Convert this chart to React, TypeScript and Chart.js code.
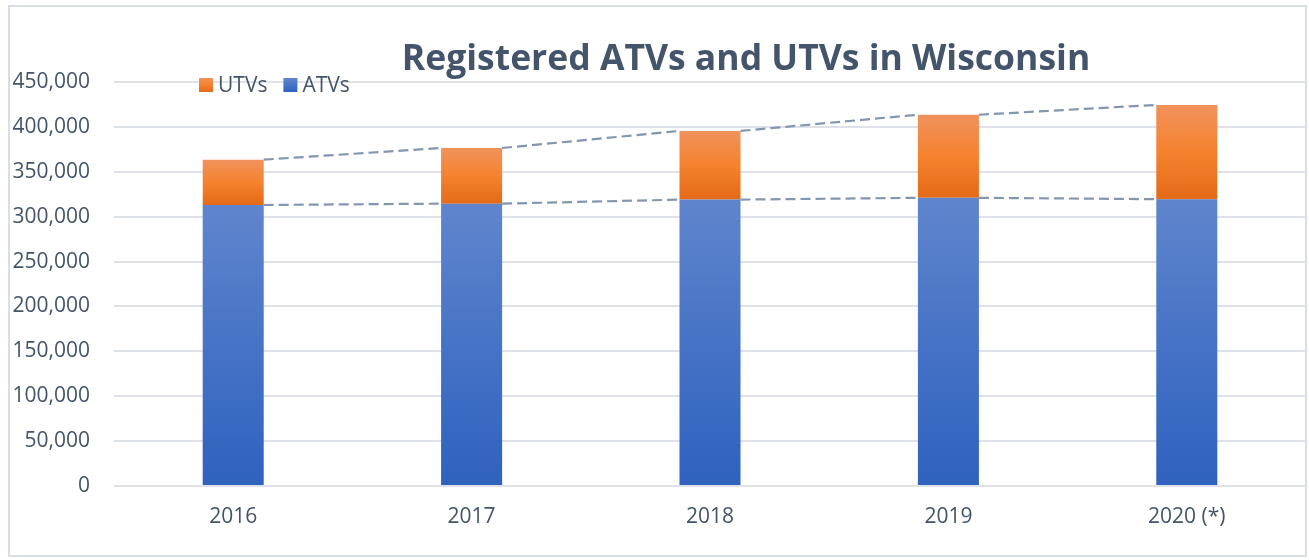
import React, { useEffect, useRef } from "react";
import { Chart, registerables } from "chart.js";

Chart.register(...registerables);

const years = ["2016", "2017", "2018", "2019", "2020 (*)"];
const atvValues = [313000, 314500, 319000, 321000, 319500];
const utvValues = [50500, 62000, 76500, 92500, 105000];
const yTickMax = 450000;
const yTickStep = 50000;
const titleText = "Registered ATVs and UTVs in Wisconsin";

const FONT = "'Open Sans', 'Noto Sans', sans-serif";
const TEXT_COLOR = "#44546A";
const GRID_COLOR = "#DEE2E8";

const blueStops: [number, string][] = [
  [0, "#6085CD"],
  [0.5, "#4673C6"],
  [1, "#2F61BE"],
];
const orangeStops: [number, string][] = [
  [0, "#F0925C"],
  [0.5, "#F5822E"],
  [1, "#E46A17"],
];

function makeGradient(c: CanvasRenderingContext2D, yTop: number, yBottom: number, stops: [number, string][]) {
  const g = c.createLinearGradient(0, yTop, 0, yBottom);
  stops.forEach(([o, col]) => g.addColorStop(o, col));
  return g;
}

function barFill(stops: [number, string][], base: string, bottomVals: number[] | null, vals: number[]) {
  return (ctx: any) => {
    const chart = ctx.chart;
    const i = ctx.dataIndex;
    if (!chart.chartArea || i === undefined || !chart.scales.y) return base;
    const start = bottomVals ? bottomVals[i] : 0;
    const end = start + vals[i];
    const y0 = chart.scales.y.getPixelForValue(start);
    const y1 = chart.scales.y.getPixelForValue(end);
    return makeGradient(chart.ctx, y1, y0, stops);
  };
}

const framePlugin = {
  id: "frame",
  beforeDraw(chart: any) {
    const c = chart.ctx;
    c.save();
    c.fillStyle = "#FFFFFF";
    c.fillRect(0, 0, chart.width, chart.height);
    c.strokeStyle = "#D9DEE6";
    c.lineWidth = 2;
    c.strokeRect(9, 6, 1297, 550);
    c.restore();
  },
};

const seriesLinesPlugin = {
  id: "seriesLines",
  afterDatasetsDraw(chart: any) {
    const c = chart.ctx;
    c.save();
    c.strokeStyle = "#8496AF";
    c.lineWidth = 2.2;
    c.setLineDash([10, 5]);
    chart.data.datasets.forEach((_: any, di: number) => {
      const meta = chart.getDatasetMeta(di);
      for (let i = 0; i < meta.data.length - 1; i++) {
        const a = meta.data[i];
        const b = meta.data[i + 1];
        c.beginPath();
        c.moveTo(a.x + a.width / 2, a.y);
        c.lineTo(b.x - b.width / 2, b.y);
        c.stroke();
      }
    });
    c.restore();
  },
};

const titleLegendPlugin = {
  id: "titleLegend",
  afterDraw(chart: any) {
    const c = chart.ctx;
    c.save();
    // title
    c.font = `bold 35.5px ${FONT}`;
    c.fillStyle = TEXT_COLOR;
    c.textAlign = "center";
    c.textBaseline = "alphabetic";
    c.fillText(titleText, 746, 70);
    // legend (reverse order: UTVs then ATVs)
    c.font = `21px ${FONT}`;
    c.textAlign = "left";
    let x = 199;
    const ds = chart.data.datasets.slice().reverse();
    ds.forEach((d: any) => {
      const stops = d.label === "UTVs" ? orangeStops : blueStops;
      c.fillStyle = makeGradient(c, 78, 92, stops);
      c.fillRect(x, 78, 14, 14);
      c.fillStyle = TEXT_COLOR;
      c.fillText(d.label, x + 19, 92);
      x += 19 + c.measureText(d.label).width + 16;
    });
    c.restore();
  },
};

export default function App() {
  const canvasRef = useRef<HTMLCanvasElement | null>(null);

  useEffect(() => {
    if (!canvasRef.current) return;
    const chart = new Chart(canvasRef.current, {
      type: "bar",
      data: {
        labels: years,
        datasets: [
          {
            label: "ATVs",
            data: atvValues,
            backgroundColor: barFill(blueStops, "#4472C4", null, atvValues),
            barPercentage: 0.256,
            categoryPercentage: 1,
          },
          {
            label: "UTVs",
            data: utvValues,
            backgroundColor: barFill(orangeStops, "#ED7D31", atvValues, utvValues),
            barPercentage: 0.256,
            categoryPercentage: 1,
          },
        ],
      },
      options: {
        responsive: false,
        animation: false,
        layout: { padding: { left: 8, right: 3, top: 82, bottom: 0 } },
        plugins: {
          legend: { display: false },
          title: { display: false },
          tooltip: { enabled: false },
        },
        scales: {
          x: {
            stacked: true,
            grid: { display: false, drawTicks: false },
            border: { display: false },
            ticks: {
              color: TEXT_COLOR,
              font: { family: FONT, size: 21 },
              padding: 18,
              maxRotation: 0,
            },
            afterFit(scale: any) {
              scale.height = 74;
            },
          },
          y: {
            stacked: true,
            min: 0,
            max: yTickMax,
            grid: { color: GRID_COLOR, lineWidth: 2, drawTicks: false },
            border: { display: false },
            ticks: {
              stepSize: yTickStep,
              color: TEXT_COLOR,
              font: { family: FONT, size: 21 },
              padding: 24,
              callback: (v: any) => Number(v).toLocaleString("en-US"),
            },
            afterFit(scale: any) {
              scale.width = 106;
            },
          },
        },
      },
      plugins: [framePlugin, seriesLinesPlugin, titleLegendPlugin],
    });
    return () => chart.destroy();
  }, []);

  return (
    <div style={{ position: "fixed", left: 0, top: 0, width: 1309, height: 560, background: "#fff" }}>
      <canvas ref={canvasRef} width={1309} height={560} style={{ display: "block", width: 1309, height: 560 }} />
    </div>
  );
}
